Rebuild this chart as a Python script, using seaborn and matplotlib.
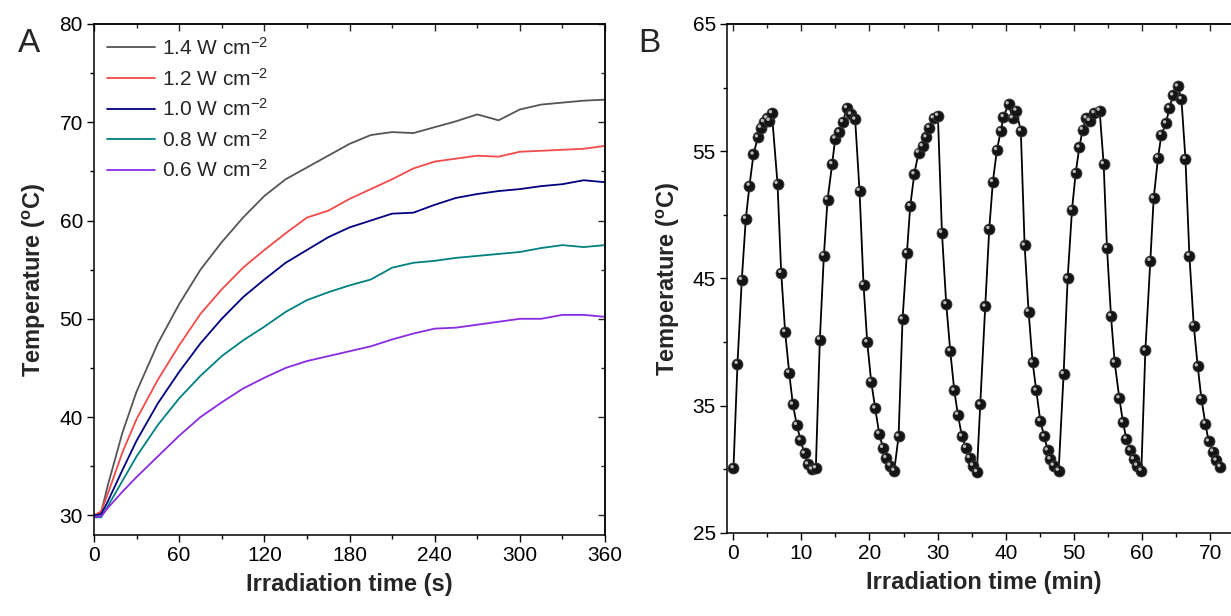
import numpy as np
import pandas as pd
import matplotlib
matplotlib.use("Agg")
import matplotlib.pyplot as plt
import matplotlib.transforms as mtransforms
from matplotlib.ticker import MultipleLocator, NullFormatter
import seaborn as sns

# ---------------- data: panel A ----------------
time_s = [0, 5, 10, 20, 30, 45, 60, 75, 90, 105, 120, 135, 150, 165, 180,
          195, 210, 225, 240, 255, 270, 285, 300, 315, 330, 345, 360]
temp_14 = [30.0, 30.3, 33.2, 38.4, 42.6, 47.5, 51.5, 55.0, 57.8, 60.3, 62.5, 64.2, 65.4, 66.6, 67.8,
           68.7, 69.0, 68.9, 69.5, 70.1, 70.8, 70.2, 71.3, 71.8, 72.0, 72.2, 72.3]
temp_12 = [30.0, 30.4, 32.3, 36.4, 39.8, 43.8, 47.3, 50.5, 53.0, 55.2, 57.0, 58.7, 60.3, 61.0, 62.2,
           63.2, 64.2, 65.3, 66.0, 66.3, 66.6, 66.5, 67.0, 67.1, 67.2, 67.3, 67.6]
temp_10 = [30.0, 30.1, 31.5, 34.6, 37.6, 41.4, 44.6, 47.5, 50.0, 52.2, 54.0, 55.7, 57.0, 58.3, 59.3,
           60.0, 60.7, 60.8, 61.6, 62.3, 62.7, 63.0, 63.2, 63.5, 63.7, 64.1, 63.9]
temp_08 = [29.8, 29.8, 31.0, 33.5, 36.0, 39.2, 41.9, 44.2, 46.2, 47.8, 49.2, 50.7, 51.9, 52.7, 53.4,
           54.0, 55.2, 55.7, 55.9, 56.2, 56.4, 56.6, 56.8, 57.2, 57.5, 57.3, 57.5]
temp_06 = [29.8, 29.9, 30.8, 32.4, 33.9, 36.0, 38.1, 40.0, 41.5, 42.9, 44.0, 45.0, 45.7, 46.2, 46.7,
           47.2, 47.9, 48.5, 49.0, 49.1, 49.4, 49.7, 50.0, 50.0, 50.4, 50.4, 50.2]
power_labels = ["1.4 W cm$^{-2}$", "1.2 W cm$^{-2}$", "1.0 W cm$^{-2}$",
                "0.8 W cm$^{-2}$", "0.6 W cm$^{-2}$"]
power_colors = ["#555555", "#f24a4a", "#000080", "#008080", "#8a2be2"]

# ---------------- data: panel B ----------------
time_min = [0.05, 0.64, 1.27, 1.86, 2.40, 2.98, 3.62, 4.06, 4.50, 4.94, 5.33, 5.68,
            6.51, 7.05, 7.63, 8.22, 8.76, 9.34, 9.88, 10.47, 10.96, 11.55, 12.13,
            12.72, 13.31, 13.85, 14.53, 14.97, 15.56, 16.10, 16.68, 17.27, 17.90,
            18.54, 19.13, 19.67, 20.25, 20.84, 21.43, 21.97, 22.46, 23.04, 23.63,
            24.27, 24.85, 25.49, 25.98, 26.57, 27.20, 27.79, 28.33, 28.77, 29.40, 30.04,
            30.63, 31.26, 31.85, 32.44, 32.97, 33.56, 34.15, 34.69, 35.18, 35.76,
            36.25, 36.98, 37.57, 38.10, 38.69, 39.27, 39.66, 40.40, 40.99, 41.53,
            42.20, 42.76, 43.34, 43.93, 44.47, 45.06, 45.64, 46.13, 46.52, 47.01, 47.75,
            48.48, 49.07, 49.71, 50.25, 50.78, 51.27, 51.81, 52.30, 52.98, 53.76,
            54.35, 54.84, 55.43, 55.97, 56.65, 57.19, 57.68, 58.27, 58.76, 59.25, 59.88,
            60.47, 61.20, 61.69, 62.33, 62.82, 63.50, 63.99, 64.53, 65.22, 65.76,
            66.35, 66.93, 67.57, 68.15, 68.69, 69.27, 69.76, 70.40, 70.88, 71.47]
temp_cycle = [30.1, 38.3, 44.9, 49.7, 52.3, 54.75, 56.1, 56.85, 57.3, 57.6, 57.4, 58.0,
              52.45, 45.45, 40.8, 37.6, 35.1, 33.5, 32.3, 31.25, 30.4, 30.0, 30.1,
              40.2, 46.8, 51.2, 54.0, 56.0, 56.5, 57.3, 58.4, 57.9, 57.5,
              51.9, 44.5, 40.0, 36.9, 34.8, 32.8, 31.7, 30.9, 30.3, 29.9,
              32.6, 41.8, 47.0, 50.7, 53.2, 54.9, 55.4, 56.1, 56.85, 57.6, 57.8,
              48.6, 43.0, 39.3, 36.2, 34.3, 32.6, 31.7, 30.9, 30.3, 29.8,
              35.1, 42.8, 48.9, 52.6, 55.1, 56.6, 57.7, 58.7, 57.6, 58.2,
              56.6, 47.6, 42.4, 38.4, 36.2, 33.8, 32.6, 31.5, 30.8, 30.3, 29.9,
              37.5, 45.0, 50.4, 53.3, 55.3, 56.7, 57.6, 57.4, 58.0, 58.2,
              54.0, 47.4, 42.05, 38.4, 35.6, 33.7, 32.4, 31.5, 30.8, 30.3, 29.9,
              39.35, 46.4, 51.3, 54.5, 56.3, 57.2, 58.4, 59.4, 60.1, 59.1,
              54.4, 46.8, 41.3, 38.1, 35.55, 33.6, 32.2, 31.4, 30.7, 30.2]

# ---------------- style ----------------
sns.set_style("ticks")
plt.rcParams["font.family"] = ["Liberation Sans", "DejaVu Sans"]
plt.rcParams["mathtext.fontset"] = "custom"
plt.rcParams["mathtext.rm"] = "Liberation Sans"
plt.rcParams["mathtext.it"] = "Liberation Sans:italic"
plt.rcParams["mathtext.bf"] = "Liberation Sans:bold"
plt.rcParams["axes.linewidth"] = 1.1

TICK_FS = 15
LABEL_FS = 17

fig = plt.figure(figsize=(12.31, 6.16), dpi=100)
axA = fig.add_axes([94 / 1231, 81 / 616, 511 / 1231, 511 / 616])
axB = fig.add_axes([727 / 1231, 83 / 616, 514 / 1231, 509 / 616])

# ---------------- panel A ----------------
series = [temp_14, temp_12, temp_10, temp_08, temp_06]
dfA = pd.concat([pd.DataFrame({"time": time_s, "temp": s, "power": lab})
                 for s, lab in zip(series, power_labels)], ignore_index=True)
sns.lineplot(data=dfA, x="time", y="temp", hue="power", hue_order=power_labels,
             palette=dict(zip(power_labels, power_colors)), linewidth=1.3,
             sort=False, ax=axA, legend=True)
handles, labels = axA.get_legend_handles_labels()
axA.legend(handles, labels, loc="upper left", bbox_to_anchor=(0.026, 0.975),
           frameon=False, fontsize=TICK_FS, handlelength=2.3, handletextpad=0.35,
           labelspacing=0.42, borderpad=0, borderaxespad=0)

axA.set_xlim(0, 360)
axA.set_ylim(28, 80)
axA.xaxis.set_major_locator(MultipleLocator(60))
axA.xaxis.set_minor_locator(MultipleLocator(30))
axA.yaxis.set_major_locator(MultipleLocator(10))
axA.yaxis.set_minor_locator(MultipleLocator(5))
axA.set_xlabel("Irradiation time (s)", fontsize=LABEL_FS, fontweight="bold", labelpad=6)
axA.set_ylabel("Temperature ($^{\\mathbf{o}}$C)", fontsize=LABEL_FS, fontweight="bold", labelpad=8)

# ---------------- panel B ----------------
dfB = pd.DataFrame({"time": time_min, "temp": temp_cycle})
sns.lineplot(data=dfB, x="time", y="temp", color="black", linewidth=1.3, sort=False, ax=axB)
sns.scatterplot(data=dfB, x="time", y="temp", color="#141414", edgecolor="#3a3a3a",
                linewidth=0.6, s=62, zorder=3, ax=axB)
hl = mtransforms.offset_copy(axB.transData, fig=fig, x=-1.4, y=1.4, units="dots")
sns.scatterplot(data=dfB, x="time", y="temp", color="#b8b8b8", edgecolor="none",
                s=6, zorder=4, transform=hl, ax=axB)

axB.set_xlim(-0.9, 74.5)
axB.set_ylim(25, 65)
axB.xaxis.set_major_locator(MultipleLocator(10))
axB.xaxis.set_minor_locator(MultipleLocator(5))
axB.yaxis.set_major_locator(MultipleLocator(10))
axB.yaxis.set_minor_locator(MultipleLocator(5))
axB.set_yticks([25, 35, 45, 55, 65])
axB.set_xlabel("Irradiation time (min)", fontsize=LABEL_FS, fontweight="bold", labelpad=6)
axB.set_ylabel("Temperature ($^{\\mathbf{o}}$C)", fontsize=LABEL_FS, fontweight="bold", labelpad=8)

for ax in (axA, axB):
    for sp in ax.spines.values():
        sp.set_visible(True)
        sp.set_linewidth(1.1)
        sp.set_color("black")
    ax.tick_params(which="major", direction="out", length=5, width=1.0,
                   labelsize=TICK_FS, colors="black", pad=3)
    ax.tick_params(which="minor", direction="out", length=3, width=1.0, colors="black")
    # inward ticks on top and right
    sx = ax.secondary_xaxis("top")
    sx.xaxis.set_major_locator(ax.xaxis.get_major_locator())
    sx.xaxis.set_minor_locator(ax.xaxis.get_minor_locator())
    sx.xaxis.set_major_formatter(NullFormatter())
    sx.tick_params(which="major", direction="in", length=5, width=1.0)
    sx.tick_params(which="minor", direction="in", length=3, width=1.0)
    sy = ax.secondary_yaxis("right")
    sy.yaxis.set_major_locator(ax.yaxis.get_major_locator())
    sy.yaxis.set_minor_locator(ax.yaxis.get_minor_locator())
    sy.yaxis.set_major_formatter(NullFormatter())
    sy.tick_params(which="major", direction="in", length=5, width=1.0)
    sy.tick_params(which="minor", direction="in", length=3, width=1.0)

fig.text(18 / 1231, 1 - 28 / 616, "A", fontsize=24, va="top", ha="left")
fig.text(638 / 1231, 1 - 28 / 616, "B", fontsize=24, va="top", ha="left")

fig.savefig("out.png", dpi=100)
